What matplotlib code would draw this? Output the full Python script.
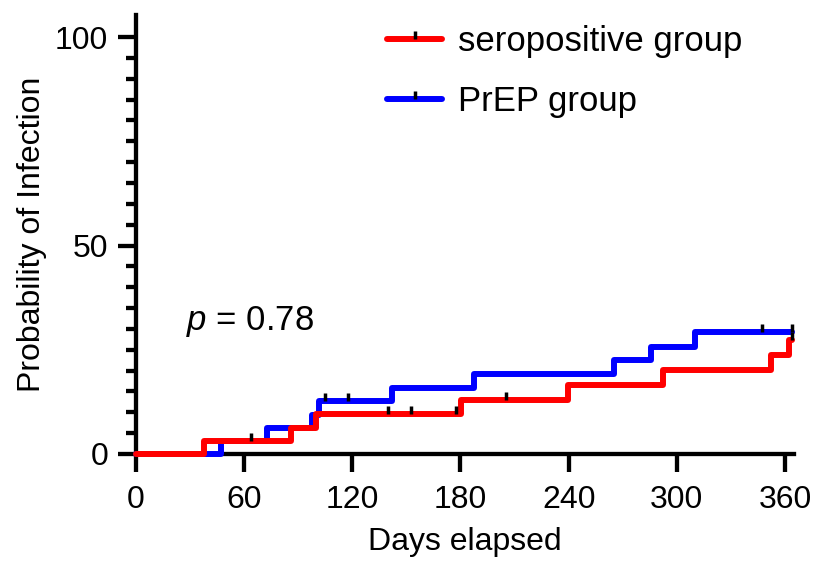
import numpy as np
import matplotlib
matplotlib.use("Agg")
import matplotlib.pyplot as plt
from matplotlib.legend_handler import HandlerTuple

plt.rcParams["font.family"] = ["Liberation Sans", "DejaVu Sans"]
plt.rcParams["mathtext.fontset"] = "custom"
plt.rcParams["mathtext.it"] = "Liberation Sans:italic"
plt.rcParams["mathtext.rm"] = "Liberation Sans"

# Kaplan-Meier style cumulative infection curves
red_days = [0, 37.5, 85.8, 100.0, 180.5, 239.8, 292.5, 352.5, 362.3, 364]
red_prob = [0, 3.1, 6.2, 9.5, 12.95, 16.45, 20.1, 23.7, 27.3, 27.3]
red_censor = [64, 139.6, 152.5, 177.5, 205.5, 364]

blue_days = [0, 47.0, 72.5, 97.4, 101.7, 141.8, 187.5, 265.3, 285.8, 310.0, 364]
blue_prob = [0, 3.1, 6.2, 9.4, 12.6, 15.75, 19.25, 22.45, 25.7, 29.2, 29.2]
blue_censor = [104.8, 117.5, 347, 364]

labels = ["seropositive group", "PrEP group"]
x_ticks = [0, 60, 120, 180, 240, 300, 360]
y_ticks = [0, 50, 100]


def level_at(days, prob, t):
    # value of the step curve at time t
    idx = np.searchsorted(days, t, side="right") - 1
    return np.array(prob)[idx]


tick_marker = [(0, 0), (0, 1)]  # short vertical stroke pointing up

fig = plt.figure(figsize=(8.13, 5.65), dpi=100)
ax = fig.add_axes([0.1673, 0.1965, 0.8093, 0.777])

handles = []
for days, prob, cens, col, z in [(red_days, red_prob, red_censor, "#ff0000", 3.5),
                                 (blue_days, blue_prob, blue_censor, "#0000ff", 3)]:
    ln, = ax.step(days, prob, where="post", color=col, lw=4.3,
                  solid_joinstyle="round", solid_capstyle="round",
                  clip_on=False, zorder=z)
    mk, = ax.plot(cens, level_at(days, prob, cens), ls="none",
                  marker=tick_marker, ms=11, mec="black", mfc="black",
                  mew=2.5, clip_on=False, zorder=4)
    handles.append((ln, mk))

ax.set_xlim(0, 365)
ax.set_ylim(0, 105.3)
ax.set_xticks(x_ticks)
ax.set_yticks(y_ticks)
ax.set_yticks(np.arange(0, 101, 5), minor=True)

for s in ["top", "right"]:
    ax.spines[s].set_visible(False)
for s in ["left", "bottom"]:
    ax.spines[s].set_linewidth(3.1)

ax.tick_params(which="major", length=13, width=3.1, labelsize=23, pad=7)
ax.tick_params(axis="x", which="major", pad=9)
ax.tick_params(which="minor", length=7, width=3.1)

ax.set_xlabel("Days elapsed", fontsize=23, labelpad=9)
ax.set_ylabel("Probability of Infection", fontsize=23, labelpad=6)

ax.text(28, 29.7, r"$p$ = 0.78", fontsize=25, ha="left", va="baseline")

ax.legend(handles, labels, handler_map={tuple: HandlerTuple(ndivide=1, pad=0)},
          loc="upper left", bbox_to_anchor=(0.36, 1.008), frameon=False,
          fontsize=25, handlelength=1.6, handletextpad=0.45, labelspacing=0.78,
          borderaxespad=0)

fig.savefig("out.png", dpi=100)
